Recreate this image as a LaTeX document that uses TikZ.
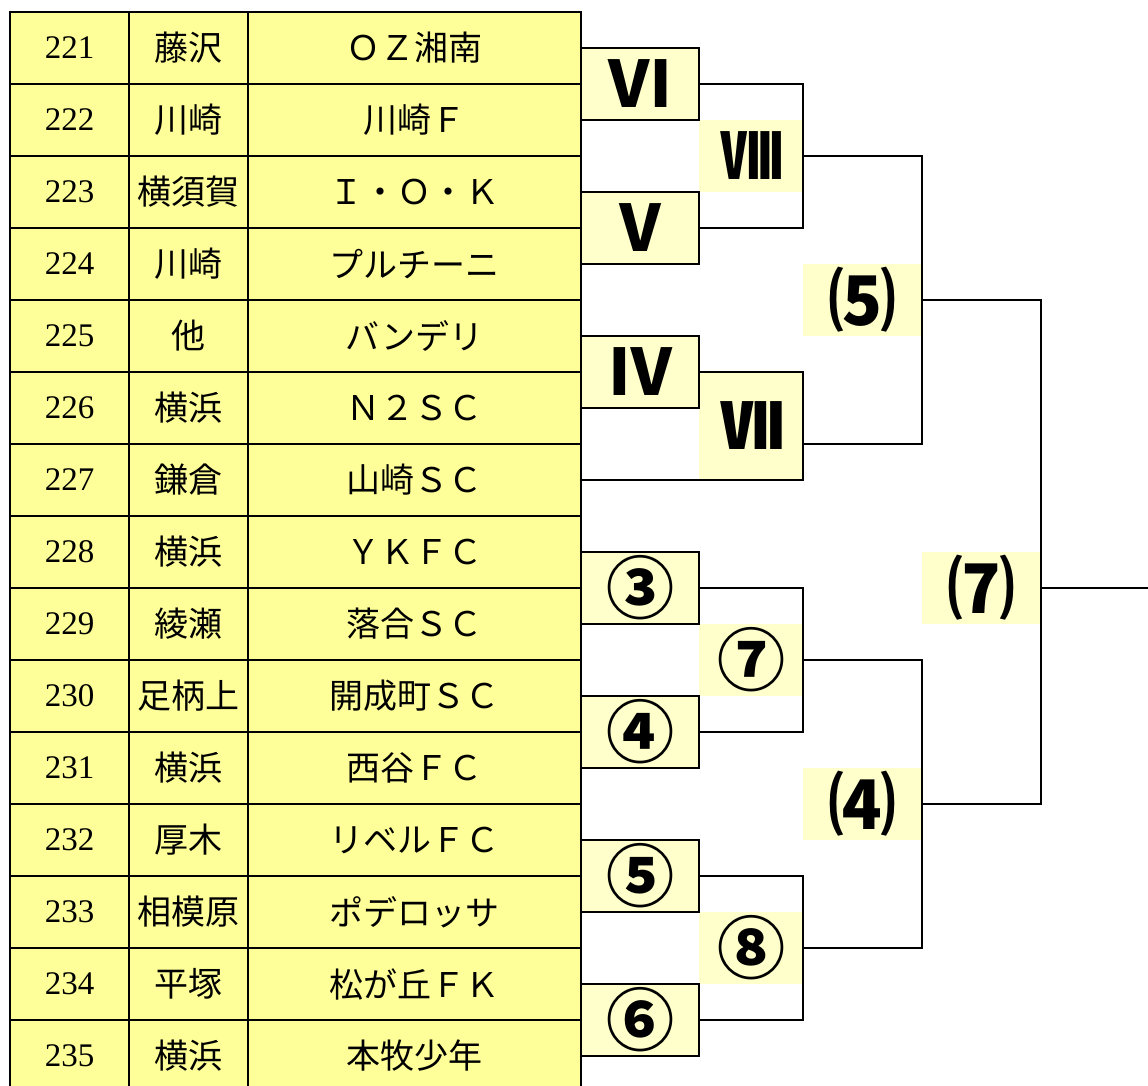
\documentclass[tikz,border=0pt]{standalone}
\usepackage{fontspec}
\usepackage{tikz}
\usetikzlibrary{calc}
\newfontfamily\jp{Noto Sans CJK JP}
\newfontfamily\numfont{Liberation Serif}
\definecolor{tablefill}{HTML}{FFFF99}
\definecolor{markfill}{HTML}{FFFFCC}

\begin{document}
\begin{tikzpicture}[x=1pt,y=-1pt,line width=2.4pt,
  cell/.style={draw,fill=tablefill,minimum height=72pt,inner sep=0pt,outer sep=0pt},
  match node/.style={draw,fill=markfill,minimum width=118pt,minimum height=72pt,inner sep=0pt,outer sep=0pt,font=\jp\bfseries\fontsize{64}{64}\selectfont},
  mark node/.style={fill=markfill,minimum width=104pt,minimum height=72pt,inner sep=0pt,outer sep=0pt,font=\jp\bfseries\fontsize{64}{64}\selectfont},
  big/.style={font=\jp\bfseries\fontsize{68}{68}\selectfont}]

  \clip (0,0) rectangle (1148,1085);

  % entry list
  \foreach \n/\city/\team [count=\i from 0] in {221/藤沢/ＯＺ湘南,222/川崎/川崎Ｆ,
      223/横須賀/Ｉ・Ｏ・Ｋ,224/川崎/プルチーニ,225/他/バンデリ,226/横浜/Ｎ２ＳＣ,
      227/鎌倉/山崎ＳＣ,228/横浜/ＹＫＦＣ,229/綾瀬/落合ＳＣ,230/足柄上/開成町ＳＣ,
      231/横浜/西谷ＦＣ,232/厚木/リベルＦＣ,233/相模原/ポデロッサ,234/平塚/松が丘ＦＫ,
      235/横浜/本牧少年}{
    \node[cell,minimum width=119pt,font=\numfont\fontsize{33}{33}\selectfont] (n\n) at (69.5,48+72*\i) {\n};
    \node[cell,minimum width=119pt,font=\jp\fontsize{34}{34}\selectfont] (c\n) at (188.5,48+72*\i) {\city};
    \node[cell,minimum width=333pt,font=\jp\fontsize{34}{34}\selectfont] (t\n) at (414.5,48+72*\i) {\team};
  }

  % round labels without frame
  \node[mark node] (lVIII) at (751,156) {Ⅷ};
  \node[mark node,minimum height=108pt] (lVII) at (751,426) {Ⅶ};
  \node[mark node,big] (l7c) at (751,660) {⑦};
  \node[mark node,big] (l8c) at (751,948) {⑧};
  \node[mark node,big,minimum width=119pt] (l5p) at (862.5,300) {⑸};
  \node[mark node,big,minimum width=119pt] (l4p) at (862.5,804) {⑷};
  \node[mark node,big,minimum width=119pt] (l7p) at (981.5,588) {⑺};

  % first round
  \node[match node] (mVI) at (640,84) {Ⅵ};
  \node[match node] (mV) at (640,228) {Ⅴ};
  \node[match node] (mIV) at (640,372) {Ⅳ};
  \node[match node,big] (m3) at (640,588) {③};
  \node[match node,big] (m4) at (640,732) {④};
  \node[match node,big] (m5) at (640,876) {⑤};
  \node[match node,big] (m6) at (640,1020) {⑥};

  \coordinate (wVII) at ($(lVII.south east)!.3333!(lVII.north east)$);
  \coordinate (champ) at (1148,588);

  \draw (mVI.east) -| (lVIII.east) |- (mV.east);
  \draw (mIV.east) -| (lVII.south east) -- (t227.east);
  \draw (m3.east) -| (l7c.east) |- (m4.east);
  \draw (m5.east) -| (l8c.east) |- (m6.east);
  \draw (lVIII.east) -| (l5p.east) |- (wVII);
  \draw (l7c.east) -| (l4p.east) |- (l8c.east);
  \draw (l5p.east) -| (l7p.east) |- (l4p.east);
  \draw (l7p.east) -- (champ);

\end{tikzpicture}
\end{document}
